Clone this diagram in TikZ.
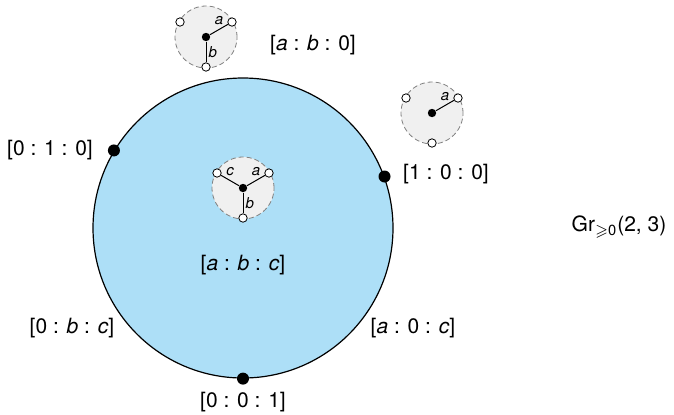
\documentclass[tikz,border=0pt]{standalone}
\usepackage{amssymb}
\usepackage{fontspec}
\setmainfont{TeX Gyre Heros}
\definecolor{cellblue}{RGB}{173,223,247}
\definecolor{discgray}{RGB}{240,240,240}
\begin{document}
\begin{tikzpicture}[x=0.5pt, y=-0.5pt,
font=\fontsize{10.5}{12}\selectfont,
cell/.style={draw, circle, fill=cellblue, line width=0.6pt, minimum size=150pt, inner sep=0pt},
disc/.style={draw=gray, circle, dash pattern=on 2.5pt off 1.5pt, fill=discgray, line width=0.4pt, minimum size=31pt, inner sep=0pt},
vertex/.style={circle, fill=black, inner sep=0pt, minimum size=6pt},
hub/.style={circle, fill=black, inner sep=0pt, minimum size=4.2pt},
leaf/.style={circle, draw, fill=white, line width=0.4pt, inner sep=0pt, minimum size=4.2pt},
edge/.style={line width=0.5pt},
lbl/.style={font=\fontsize{7.5}{8}\selectfont\itshape, inner sep=1pt}
]
\useasboundingbox (0,0) rectangle (674,414);

% the positroid cell
\node[cell] (C) at (243,228) {};
\node[vertex] (P010) at (C.149) {};
\node[vertex] (P100) at (C.20.5) {};
\node[vertex] (P001) at (C.270) {};

% plabic pictures
\node[disc] (D0) at (243,188) {};
\node[disc] (D1) at (206,37) {};
\node[disc] (D2) at (432,113) {};
\foreach \d in {D0, D1, D2} {
  \node[hub] (\d-o) at (\d) {};
  \foreach \n/\ang in {a/-30, b/90, c/210}
    \node[leaf] (\d-\n) at ([shift={(\ang:30)}]\d) {};
}
\draw[edge] (D0-o) -- node[lbl, above=1pt] {a} (D0-a);
\draw[edge] (D0-o) -- node[lbl, right] {b} (D0-b);
\draw[edge] (D0-o) -- node[lbl, above=1pt] {c} (D0-c);
\draw[edge] (D1-o) -- node[lbl, above=1pt] {a} (D1-a);
\draw[edge] (D1-o) -- node[lbl, right] {b} (D1-b);
\draw[edge] (D2-o) -- node[lbl, above=1pt] {a} (D2-a);

% coordinates
\node (Labc) at (243,265) {[\textit{a} : \textit{b} : \textit{c}]};
\node (Lab0) at (313,45) {[\textit{a} : \textit{b} : 0]};
\node (L010) at (50,150) {[0 : 1 : 0]};
\node (L100) at (446,174) {[1 : 0 : 0]};
\node (L0bc) at (72,328) {[0 : \textit{b} : \textit{c}]};
\node (La0c) at (413,328) {[\textit{a} : 0 : \textit{c}]};
\node (L001) at (243,402) {[0 : 0 : 1]};
\node (Gr) at (619,227) {Gr\textsubscript{$\geqslant$0}(2, 3)};
\end{tikzpicture}
\end{document}
